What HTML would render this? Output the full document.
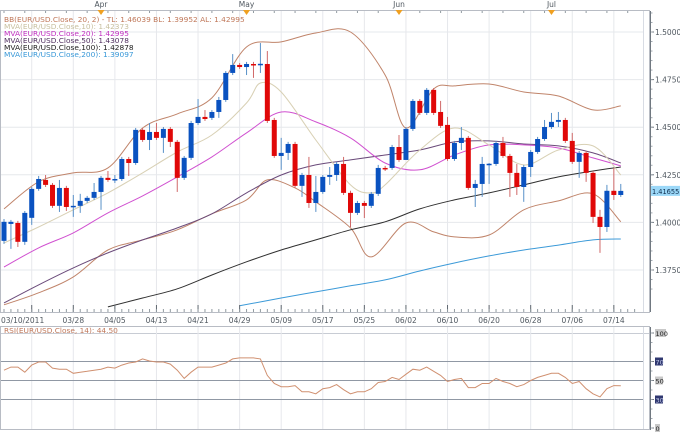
<!DOCTYPE html>
<html><head><meta charset="utf-8">
<style>
html,body{margin:0;padding:0;background:#fff;}
svg{display:block;font-family:"DejaVu Sans","Liberation Sans",sans-serif;}
</style></head>
<body>
<svg id="chart" width="680" height="434" viewBox="0 0 680 434" xmlns="http://www.w3.org/2000/svg">
<g id="grid"></g>
<g id="series"></g>
<g id="axes"></g>
<g id="legend" font-size="7.4">
  <text x="4" y="22" fill="#c0785a">BB(EUR/USD.Close, 20, 2) -  TL: 1.46039  BL: 1.39952  AL: 1.42995</text>
  <text x="4" y="29" fill="#c8c0a0">MVA(EUR/USD.Close,10): 1.42373</text>
  <text x="4" y="36" fill="#c030c0">MVA(EUR/USD.Close,20): 1.42995</text>
  <text x="4" y="43" fill="#503060">MVA(EUR/USD.Close,50): 1.43078</text>
  <text x="4" y="50" fill="#202020">MVA(EUR/USD.Close,100): 1.42878</text>
  <text x="4" y="57" fill="#3898d8">MVA(EUR/USD.Close,200): 1.39097</text>
</g>
<text x="4" y="333" font-size="7.4" fill="#c0785a">RSI(EUR/USD.Close, 14): 44.50</text>
</svg>
<script>
const opens=[1.3903,1.3992,1.3997,1.3898,1.4024,1.4176,1.4223,1.4197,1.4087,1.4181,1.4081,1.4087,1.4113,1.4129,1.4160,1.4234,1.4223,1.4228,1.4333,1.4312,1.4486,1.4433,1.4475,1.4444,1.4491,1.4423,1.4234,1.4339,1.4522,1.4554,1.4549,1.4580,1.4643,1.4785,1.4827,1.4816,1.4832,1.4832,1.4832,1.4538,1.4349,1.4365,1.4412,1.4192,1.4249,1.4102,1.4160,1.4239,1.4249,1.4307,1.4155,1.4050,1.4102,1.4087,1.4150,1.4286,1.4286,1.4396,1.4328,1.4491,1.4638,1.4575,1.4696,1.4580,1.4512,1.4333,1.4417,1.4444,1.4181,1.4202,1.4307,1.4307,1.4417,1.4349,1.4260,1.4186,1.4291,1.4370,1.4438,1.4501,1.4528,1.4538,1.4428,1.4318,1.4365,1.4260,1.4029,1.3976,1.4166,1.4144];
const closes=[1.4003,1.4003,1.3898,1.4050,1.4176,1.4228,1.4197,1.4087,1.4181,1.4081,1.4087,1.4113,1.4129,1.4160,1.4234,1.4223,1.4228,1.4333,1.4312,1.4486,1.4433,1.4475,1.4444,1.4491,1.4423,1.4234,1.4339,1.4522,1.4554,1.4543,1.4580,1.4643,1.4785,1.4827,1.4816,1.4832,1.4827,1.4833,1.4533,1.4349,1.4365,1.4412,1.4192,1.4249,1.4102,1.4160,1.4239,1.4249,1.4307,1.4155,1.4050,1.4102,1.4087,1.4150,1.4286,1.4281,1.4396,1.4328,1.4491,1.4638,1.4575,1.4696,1.4575,1.4507,1.4333,1.4417,1.4444,1.4181,1.4202,1.4307,1.4308,1.4417,1.4349,1.4260,1.4186,1.4291,1.4370,1.4438,1.4501,1.4528,1.4538,1.4428,1.4318,1.4365,1.4260,1.4029,1.3976,1.4166,1.4144,1.41655];
const highs=[1.4018,1.4013,1.4008,1.4060,1.4186,1.4244,1.4249,1.4207,1.4223,1.4192,1.4144,1.4150,1.4139,1.4207,1.4244,1.4270,1.4249,1.4344,1.4344,1.4496,1.4496,1.4522,1.4522,1.4501,1.4501,1.4433,1.4349,1.4533,1.4648,1.4590,1.4590,1.4659,1.4795,1.4884,1.4837,1.4843,1.4843,1.4942,1.4900,1.4549,1.4444,1.4423,1.4423,1.4260,1.4344,1.4244,1.4249,1.4291,1.4318,1.4344,1.4166,1.4113,1.4113,1.4160,1.4302,1.4297,1.4407,1.4459,1.4501,1.4648,1.4648,1.4706,1.4706,1.4638,1.4554,1.4428,1.4501,1.4454,1.4223,1.4344,1.4312,1.4428,1.4449,1.4360,1.4307,1.4302,1.4380,1.4449,1.4538,1.4575,1.4580,1.4549,1.4470,1.4375,1.4375,1.4270,1.4066,1.4197,1.4286,1.4202];
const lows=[1.3887,1.3861,1.3871,1.3882,1.3987,1.4166,1.4186,1.4076,1.4055,1.4060,1.4029,1.4050,1.4102,1.4118,1.4066,1.4213,1.4207,1.4218,1.4244,1.4302,1.4423,1.4380,1.4433,1.4365,1.4396,1.4160,1.4223,1.4328,1.4512,1.4533,1.4538,1.4549,1.4633,1.4774,1.4806,1.4774,1.4759,1.4785,1.4522,1.4339,1.4276,1.4328,1.4181,1.4134,1.4076,1.4055,1.4150,1.4197,1.4218,1.4144,1.3976,1.4039,1.4023,1.4076,1.4139,1.4270,1.4276,1.4318,1.4454,1.4480,1.4564,1.4564,1.4564,1.4496,1.4323,1.4323,1.4380,1.4171,1.4081,1.4134,1.4202,1.4297,1.4339,1.4134,1.4144,1.4108,1.4239,1.4360,1.4428,1.4491,1.4501,1.4417,1.4307,1.4234,1.4213,1.3997,1.3840,1.3950,1.4118,1.4134];
const upperIdx=[0,5,10,15,20,25,30,35,40,45,50,55,58,62,65,70,75,80,85,89];
const bbUpper=[1.4071,1.4213,1.4260,1.4286,1.4496,1.4570,1.4654,1.4921,1.4948,1.4995,1.5000,1.4774,1.4496,1.4701,1.4717,1.4727,1.4685,1.4664,1.4591,1.4612];
const lowerIdx=[0,5,10,15,20,25,30,35,38,42,45,50,53,58,62,65,70,75,80,85,89];
const bbLower=[1.3567,1.3630,1.3714,1.3855,1.3908,1.3961,1.4045,1.4118,1.4223,1.4181,1.4108,1.3971,1.3819,1.3997,1.3950,1.3924,1.3934,1.4066,1.4113,1.4150,1.4003];
const ma10Idx=[0,5,10,15,20,25,30,35,37,40,45,50,53,55,60,65,70,75,80,85,89];
const mva10=[1.3892,1.3976,1.4066,1.4155,1.4260,1.4370,1.4459,1.4627,1.4732,1.4685,1.4433,1.4197,1.4155,1.4197,1.4380,1.4496,1.4407,1.4302,1.4380,1.4402,1.4249];
const indIdx=[0,5,10,15,20,25,30,35,40,45,50,55,60,65,70,75,80,85,89];
const mva20=[1.3766,1.3866,1.3945,1.4050,1.4139,1.4239,1.4344,1.4470,1.4580,1.4528,1.4444,1.4312,1.4276,1.4354,1.4407,1.4407,1.4391,1.4339,1.4297];
const mva50=[1.3577,1.3672,1.3761,1.3840,1.3908,1.3971,1.4045,1.4155,1.4249,1.4302,1.4328,1.4354,1.4380,1.4423,1.4428,1.4412,1.4402,1.4365,1.4312];
const mva100Idx=[15,20,25,30,35,40,45,50,55,60,65,70,75,80,85,89];
const mva100=[1.3556,1.3603,1.3651,1.3724,1.3793,1.3855,1.3908,1.3961,1.4003,1.4071,1.4118,1.4155,1.4197,1.4239,1.4270,1.4291];
const mva200Idx=[34,40,45,50,55,60,65,70,75,80,85,89];
const mva200=[1.3562,1.3603,1.3635,1.3667,1.3698,1.3745,1.3787,1.3824,1.3855,1.3881,1.3908,1.3913];
const rsi=[60.8,64.1,64.1,58.7,66.2,69.5,69.5,63,61.9,61.9,57.6,58.7,59.7,60.8,61.9,64.1,63,66.2,68.4,69.5,72.7,70.5,69.5,69.5,67.3,60.8,52.2,58.7,64.1,64.1,64.1,66.2,68.4,72.7,73.8,73.8,73.8,72.7,55.4,46.8,43.5,43.5,44.6,38.1,38.1,36,41.4,42.5,45.7,40.3,36,38.1,38.1,41.4,47.9,48.9,53.3,51.1,56.5,61.9,60.8,64.1,59.7,55.4,48.9,51.1,52.2,42.5,42.5,46.8,46.8,52.2,48.9,46.8,43.5,45.7,50,53.3,55.4,57.6,57.6,53.3,46.8,48.9,41.4,36,32.7,41.4,44.6,44.5];
const priceTicks=[1.5,1.475,1.45,1.425,1.4,1.375];
const priceTickLabels=["1.5000","1.4750","1.4500","1.4250","1.4000","1.3750"];
const dateIdx=[4,10,16,22,28,34,40,46,52,58,64,70,76,82,88];
const dateLabels=["03/10/2011","03/28","04/05","04/13","04/21","04/29","05/09","05/17","05/25","06/02","06/10","06/20","06/28","07/06","07/14"];
const monthIdx=[14,35,57,79];
const monthLabels=["Apr","May","Jun","Jul"];
const rsiTicks=[100,70,50,30,0];

const NS="http://www.w3.org/2000/svg";
function mk(tag,attrs,parent){const e=document.createElementNS(NS,tag);for(const k in attrs)e.setAttribute(k,attrs[k]);parent.appendChild(e);return e;}
const X=i=>4+i*6.93;
const Y=p=>32+(1.5-p)*1904;
const RY=v=>428-v*0.95;
const grid=document.getElementById('grid'),series=document.getElementById('series'),axes=document.getElementById('axes');

let r=mk('rect',{x:0.5,y:10.5,width:649,height:302,fill:'none',stroke:'#b8bcc4'},axes);

mk('line',{x1:643.5,y1:11,x2:643.5,y2:312,stroke:'#d8dce4'},grid);
r=mk('rect',{x:0.5,y:326.5,width:649,height:103,fill:'none',stroke:'#b8bcc4'},axes);

mk('line',{x1:0,y1:333.5,x2:650,y2:333.5,stroke:'#c8ccd4'},grid);
mk('line',{x1:643.5,y1:327,x2:643.5,y2:430,stroke:'#d8dce4'},grid);

priceTicks.forEach((p,k)=>{
  const g=mk('line',{x1:0,y1:Y(p),x2:643,y2:Y(p),stroke:'#e6e8ec'},grid);
  
  const t=mk('text',{x:655,y:Y(p)+3,'font-size':7.5,fill:'#505860'},axes);
  
  t.textContent=priceTickLabels[k];
  mk('line',{x1:650,y1:Y(p),x2:654,y2:Y(p),stroke:'#707880'},axes);
});
for(let p=1.365;p<1.51;p+=0.005){mk('line',{x1:650,y1:Y(p),x2:652.5,y2:Y(p),stroke:'#a0a8b0'},axes);}
dateIdx.forEach((d,k)=>{
  const x=X(d);
  const g=mk('line',{x1:x,y1:11,x2:x,y2:312,stroke:'#e6e8ec'},grid);
  
  mk('line',{x1:x,y1:327,x2:x,y2:430,stroke:'#e6e8ec'},grid);
  mk('line',{x1:x,y1:305,x2:x,y2:312,stroke:'#606870'},axes);
  const t=mk('text',{x:k===0?1:x,y:323,'font-size':7.5,fill:'#505860','text-anchor':k===0?'start':'middle'},axes);
  
  t.textContent=dateLabels[k];
});
for(let i=0;i<92;i++){mk('line',{x1:X(i),y1:309,x2:X(i),y2:312,stroke:'#909aa0'},axes);}
for(let i=0;i<92;i+=3){mk('line',{x1:X(i),y1:11,x2:X(i),y2:13,stroke:'#909aa0'},axes);}
monthIdx.forEach((m,k)=>{
  const x=X(m);
  const t=mk('text',{x:x,y:7,'font-size':7.5,fill:'#505860','text-anchor':'middle'},axes);
  
  t.textContent=monthLabels[k];
  const tri=mk('path',{d:`M${x-3.5},10 L${x+3.5},10 L${x},15 Z`,fill:'#f0a020'},axes);
  
});

function smoothPath(pts){
  let d=`M${pts[0][0].toFixed(1)},${pts[0][1].toFixed(1)}`;
  for(let i=0;i<pts.length-1;i++){
    const p0=pts[Math.max(0,i-1)],p1=pts[i],p2=pts[i+1],p3=pts[Math.min(pts.length-1,i+2)];
    const c1x=p1[0]+(p2[0]-p0[0])/6,c1y=p1[1]+(p2[1]-p0[1])/6;
    const c2x=p2[0]-(p3[0]-p1[0])/6,c2y=p2[1]-(p3[1]-p1[1])/6;
    d+=` C${c1x.toFixed(1)},${c1y.toFixed(1)} ${c2x.toFixed(1)},${c2y.toFixed(1)} ${p2[0].toFixed(1)},${p2[1].toFixed(1)}`;
  }
  return d;
}
function line(idx,vals,color,name){
  const pts=vals.map((v,k)=>[X(idx[k]),Y(v)]);
  const l=mk('path',{d:smoothPath(pts),fill:'none',stroke:color,'stroke-width':1},series);
  
}
line(upperIdx,bbUpper,'#c0846a','bb-upper-band');
line(lowerIdx,bbLower,'#c0846a','bb-lower-band');
line(mva200Idx,mva200,'#3c9ad8','mva200-line');
line(mva100Idx,mva100,'#303030','mva100-line');
line(indIdx,mva50,'#6a4a7a','mva50-line');
line(indIdx,mva20,'#d050d0','mva20-line');
line(ma10Idx,mva10,'#d8d0b4','mva10-line');

closes.forEach((c,i)=>{
  const o=opens[i],up=c>=o,x=X(i);
  const w=mk('line',{x1:x,y1:Y(highs[i]),x2:x,y2:Y(lows[i]),stroke:up?'#5890c8':'#d06868','stroke-width':1},series);
  
  const top=Y(Math.max(o,c)),h=Math.max(1.5,Math.abs(Y(o)-Y(c)));
  const b=mk('rect',{x:x-2.5,y:top,width:5,height:h,fill:up?'#0a52c0':'#e00808'},series);
  
});

const lp=closes[closes.length-1];
let lb=mk('rect',{x:651,y:Y(lp)-5,width:29,height:10,fill:'#9cd8f8'},axes);

let lt=mk('text',{x:652,y:Y(lp)+3,'font-size':6.6,fill:'#103050'},axes);

lt.textContent=lp.toFixed(5);

[70,50,30].forEach(v=>{const g=mk('line',{x1:0,y1:RY(v),x2:643,y2:RY(v),stroke:'#9098a4'},grid);
 });
rsiTicks.forEach(v=>{
  const y=RY(v);
  mk('line',{x1:650,y1:y,x2:654,y2:y,stroke:'#707880'},axes);
  const dark=(v===70||v===30);
  mk('rect',{x:655,y:y-4,width:v===100?11:(v===0?5:8),height:8,fill:dark?'#303870':'#c8c8c8'},axes);
  const t=mk('text',{x:655.5,y:y+3,'font-size':6.5,fill:dark?'#c0c8e8':'#202020'},axes);
  
  t.textContent=String(v);
});
for(let v=0;v<=100;v+=10){mk('line',{x1:650,y1:RY(v),x2:652.5,y2:RY(v),stroke:'#a0a8b0'},axes);}
mk('line',{x1:650.5,y1:327,x2:650.5,y2:430,stroke:'#707880'},axes);
mk('line',{x1:650.5,y1:11,x2:650.5,y2:312,stroke:'#707880'},axes);
const rp=rsi.map((v,i)=>X(i).toFixed(1)+','+RY(v).toFixed(1)).join(' ');
const rl=mk('polyline',{points:rp,fill:'none',stroke:'#d09070','stroke-width':1},series);


</script>
</body></html>
